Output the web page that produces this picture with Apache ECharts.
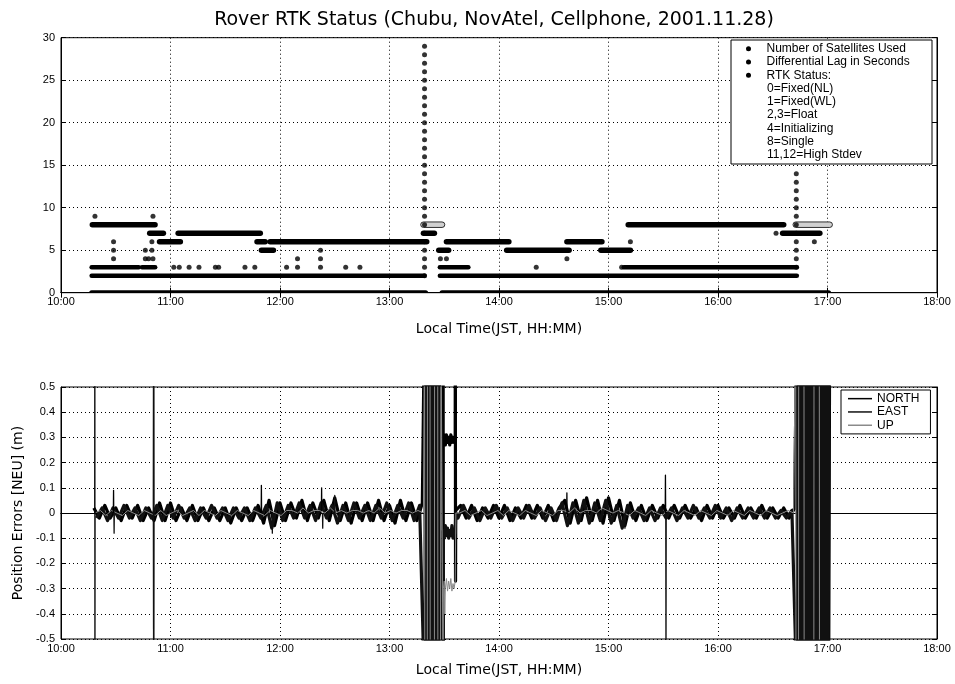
<!DOCTYPE html>
<html><head><meta charset="utf-8">
<script src="https://cdn.jsdelivr.net/npm/echarts@6/dist/echarts.min.js"></script>
<style>html,body{margin:0;background:#fff}#c{width:955px;height:684px}</style>
</head><body><div id="c"></div>
<script>
// ---------- tick labels / texts ----------
const xTickLabels = ['10:00','11:00','12:00','13:00','14:00','15:00','16:00','17:00','18:00'];
const statusCodes = ['0=Fixed(NL)','1=Fixed(WL)','2,3=Float','4=Initializing','8=Single','11,12=High Stdev'];
const topNames = ['Number of Satellites Used','Differential Lag in Seconds','RTK Status:'];
const bottomNames = ['NORTH','EAST','UP'];

// ---------- top chart: runs [start hour, end hour, value] and single points [hour, value] ----------
const satRuns = [
  [10.286,10.859,8],[10.81,10.935,7],[10.90,11.09,6],[11.07,11.82,7],[11.79,11.865,6],
  [11.83,11.94,5],[11.91,13.34,6],[13.31,13.41,7],[13.45,13.54,5],[13.52,14.09,6],
  [14.07,14.64,5],[14.62,14.94,6],[14.93,15.20,5],[15.18,16.60,8],[16.59,16.93,7]
];
const satRunsLight = [[13.31,13.48,8],[16.71,17.02,8]];
const satPoints = [[10.31,9],[10.84,9],[16.715,9],[16.53,7],[15.20,6],[16.88,6]];

const lagRuns = [
  [10.28,10.71,3],[10.74,10.86,3],[10.28,13.32,2],[13.46,16.72,2],[13.46,13.72,3],[15.14,16.72,3]
];
const lagPoints = [
  [10.48,6],[10.48,5],[10.48,4],[10.77,5],[10.77,4],[10.80,4],[10.83,6],[10.83,5],[10.84,4],
  [11.03,3],[11.08,3],[11.17,3],[11.26,3],[11.41,3],[11.44,3],[11.68,3],[11.77,3],
  [12.06,3],[12.16,4],[12.16,3],[12.37,5],[12.37,4],[12.37,3],[12.60,3],[12.73,3],
  [13.465,4],[13.52,4],[14.34,3],[14.62,4],[15.12,3]
];
const lagColumnTimes = [13.32, 16.715];
const lagColumn1 = [2,3,4,5,6,7,8,9,10,11,12,13,14,15,16,17,18,19,20,21,22,23,24,25,26,27,28,29];
const lagColumn2 = [3,4,5,6,7,8,10,11,12,13,14];

const statusRuns = [[10.28,13.33,0],[13.48,17.01,0]];

// ---------- bottom chart: position errors (cm), regular samples every 0.05 h ----------
const sampleStep = 0.05;
const northAStart = 10.30, eastAStart = 10.325, upAStart = 10.31;
const northA = [2,-2,3,-2,2,-3,3,-2,3,-3, 2,-3,4,-3,4,-3,2,-3,3,-3, 2,-3,2,-3,2,-4,2,-3,2,-3,
  3,-4,5,-5,4,-3,4,-2,5,-3, 4,-2,5,-3,6,-3,4,-4,4,-3, 4,-3,5,-3,3,-4,5,-3,4,-3, 4];
const eastA = [-2,2,-3,2,-2,3,-2,2,-3,2, -2,3,-3,3,-2,3,-2,2,-3,2, -2,3,-2,2,-3,2,-2,2,-3,2,
  -2,3,-6,4,-3,3,-2,4,-2,3, -3,4,-2,3,-4,3,-3,4,-2,3, -3,3,-2,4,-3,3,-2,4,-3,3];
const upA = [0,1,-1,1,0,-1,1,0,-1,1, 0,-1,1,-1,0,1,-1,0,1,-1, 1,0,-1,1,0,-1,1,0,-1,1,
  0,-1,1,0,-1,1,1,0,2,0, 1,1,0,2,0,1,0,1,1,0, 1,0,2,0,1,0,1,1,0,1, 0];

const northCStart = 13.65, eastCStart = 13.625, upCStart = 13.64;
const northC = [3,-2,3,-3,2,-2,3,-2,3,-3, 2,-2,3,-2,3,-2,3,-3,2, 5,-4,5,-3,6,-3,5,-4,6,-3,
  5,-5,4,-3,3,-3,3,-2,3,-2, 3,-2,3,-2,2,-3,3,-2,3,-2, 2,-2,3,-2,2,-2,3,-2,2,-2, 2,-2,2];
const eastC = [-2,3,-2,2,-3,2,-2,3,-2,2, -3,2,-2,3,-2,2,-3,2,-3, 4,-5,4,-4,5,-4,4,-3,5,-4,
  3,-6,3,-2,2,-3,2,-3,2,-2, 2,-3,2,-2,3,-2,2,-2,3,-2, 2,-3,2,-2,2,-2,2,-2,2,-2, 1,-2,1];
const upC = [0,1,-1,0,1,-1,0,1,-1,1, 0,-1,1,0,-1,1,0,-1,1, 1,0,2,0,1,1,0,2,1,0,
  1,0,-1,1,0,-1,1,0,-1,1, 0,-1,1,0,-1,1,0,-1,1,0, -1,1,0,-1,1,0,-1,1,0,-1, 0,1,0];

// burst periods (m), samples every 0.01 h
const burstStep = 0.01;
const northB1Start = 13.32, eastB1Start = 13.325;
const northB1 = [0.8,-0.8,0.8,-0.8,0.8,-0.8,0.8,-0.8,0.8,-0.8,0.8,-0.8,0.8,-0.8,0.8];
const eastB1 = [-0.8,0.8,-0.8,0.8,-0.8,0.8,-0.8,0.8,-0.8,0.8,-0.8,0.8,-0.8,0.8,-0.8];
const northB3Start = 16.72, eastB3Start = 16.725;
const northB3 = [0.8,-0.8,0.8,-0.8,0.8,-0.8,0.8,-0.8,0.8,-0.8, 0.8,-0.8,0.8,-0.8,0.8,-0.8,0.8,-0.8,0.8,-0.8,
  0.8,-0.8,0.8,-0.8,0.8,-0.8,0.8,-0.8,0.8,-0.8, 0.8];
const eastB3 = [-0.8,0.8,-0.8,0.8,-0.8,0.8,-0.8,0.8,-0.8,0.8, -0.8,0.8,-0.8,0.8,-0.8,0.8,-0.8,0.8,-0.8,0.8,
  -0.8,0.8,-0.8,0.8,-0.8,0.8,-0.8,0.8,-0.8,0.8];

// offset period after the first burst [hour, m]
const northB2 = [
  [13.475,0.8],[13.49,0.8],[13.4905,-0.8],[13.491,0.29],[13.50,0.31],[13.51,0.27],[13.52,0.31],
  [13.53,0.28],[13.54,0.30],[13.55,0.27],[13.56,0.31],[13.57,0.28],[13.58,0.30],[13.59,0.28],
  [13.60,0.29],[13.601,0.8],[13.603,-0.27],[13.605,0.01]
];
const eastB2 = [
  [13.475,-0.8],[13.491,-0.8],[13.492,-0.07],[13.50,-0.10],[13.51,-0.05],[13.52,-0.09],[13.53,-0.06],
  [13.54,-0.10],[13.55,-0.07],[13.56,-0.09],[13.57,-0.05],[13.58,-0.10],[13.59,-0.07],[13.60,-0.08],[13.605,0]
];
const upExtra = [
  [13.32,0.8],[13.322,-0.8],[13.345,-0.8],[13.347,0.8],[13.37,0.8],[13.372,-0.8],[13.41,-0.8],
  [13.412,0.8],[13.44,0.8],[13.442,-0.8],[13.465,-0.8],
  [13.47,0.8],[13.49,-0.8],[13.492,-0.30],[13.50,-0.27],[13.505,-0.40],[13.51,-0.30],[13.52,-0.26],
  [13.53,-0.31],[13.54,-0.27],[13.55,-0.30],[13.56,-0.26],[13.57,-0.31],[13.58,-0.28],[13.59,-0.30],
  [13.60,-0.27],[13.606,0],
  [16.71,0.8],[16.712,-0.8],[16.735,-0.8],[16.737,0.8],[16.785,0.8],[16.787,-0.8],[16.875,-0.8],
  [16.877,0.8],[16.925,0.8],[16.927,-0.8],[17.0,-0.8]
];
// isolated spikes [hour, m], one group per spike
const northSpikes = [
  [[10.308,0],[10.309,0.7],[10.31,-0.7],[10.311,0.02]],
  [[10.478,0],[10.48,0.09],[10.482,-0.01]],
  [[10.843,0],[10.845,0.7],[10.846,-0.7],[10.848,0]],
  [[11.828,0],[11.83,0.11],[11.832,0]],
  [[12.378,0.01],[12.38,0.10],[12.382,0.01]],
  [[14.618,0.01],[14.62,0.08],[14.622,0]],
  [[15.518,0.01],[15.52,0.15],[15.522,0]]
];
const eastSpikes = [
  [[10.483,0],[10.485,-0.08],[10.487,0]],
  [[10.844,0],[10.846,-0.7],[10.847,0.7],[10.849,0]],
  [[11.928,0],[11.93,-0.08],[11.932,0]],
  [[12.388,0],[12.39,-0.06],[12.392,0]],
  [[12.498,0],[12.50,0.07],[12.502,0]],
  [[15.148,0],[15.15,-0.06],[15.152,0]],
  [[15.523,0],[15.525,-0.7],[15.527,0]]
];

// ---------- build ----------
function samples(start, step, vals, scale) {
  return vals.map((v, i) => [start + i * step, v * scale]);
}
function merge(...parts) {
  return [].concat(...parts).sort((a, b) => a[0] - b[0]);
}
function groupsWithBreaks(groups) {
  const out = [];
  groups.forEach(g => { g.forEach(p => out.push(p)); out.push([g[g.length - 1][0], '-']); });
  return out;
}
const northData = merge(samples(northAStart, sampleStep, northA, 0.01), samples(northCStart, sampleStep, northC, 0.01),
  samples(northB1Start, burstStep, northB1, 1), samples(northB3Start, burstStep, northB3, 1), northB2);
const eastData = merge(samples(eastAStart, sampleStep, eastA, 0.01), samples(eastCStart, sampleStep, eastC, 0.01),
  samples(eastB1Start, burstStep, eastB1, 1), samples(eastB3Start, burstStep, eastB3, 1), eastB2);
const upData = merge(samples(upAStart, sampleStep, upA, 0.01), samples(upCStart, sampleStep, upC, 0.01), upExtra);

const lagColumnPoints = lagColumn1.map(v => [lagColumnTimes[0], v]).concat(lagColumn2.map(v => [lagColumnTimes[1], v]));

const FONT = 'Liberation Sans';
const FONT2 = 'DejaVu Sans';

function runSeries(name, runs, h, fill, stroke) {
  return {
    type: 'custom', name, xAxisIndex: 0, yAxisIndex: 0, data: runs, clip: true, silent: true,
    encode: { x: [0, 1], y: 2 }, itemStyle: { color: '#000' },
    renderItem: function (params, api) {
      const p0 = api.coord([api.value(0), api.value(2)]);
      const p1 = api.coord([api.value(1), api.value(2)]);
      return { type: 'rect', shape: { x: p0[0] - h / 2, y: p0[1] - h / 2, width: p1[0] - p0[0] + h, height: h, r: h / 2 },
        style: { fill: fill, stroke: stroke || null, lineWidth: stroke ? 0.8 : 0 } };
    }
  };
}
function dotSeries(name, pts) {
  return { type: 'scatter', name, xAxisIndex: 0, yAxisIndex: 0, data: pts, symbol: 'circle', symbolSize: 5,
    itemStyle: { color: '#000' }, silent: true };
}
function lineSeries(name, data, color, width) {
  return { type: 'line', name, xAxisIndex: 2, yAxisIndex: 2, data, symbol: 'none', showSymbol: false, clip: true,
    connectNulls: false, lineStyle: { color, width, join: 'round' }, itemStyle: { color }, silent: true };
}

const dotted = { color: '#000', type: [1, 3], width: 1 };
function xAx(grid, bottomPos, nameGap) {
  return {
    type: 'value', gridIndex: grid, min: 10, max: 18, interval: 1, position: bottomPos ? 'bottom' : 'top',
    axisLine: { show: true, lineStyle: { color: '#000', width: 1 } },
    axisTick: { show: true, inside: true, length: 5, lineStyle: { color: '#000' } },
    axisLabel: bottomPos ? { color: '#000', fontSize: 11, fontFamily: FONT, margin: 4,
      formatter: v => xTickLabels[Math.round(v - 10)] } : { show: false },
    splitLine: { show: bottomPos, lineStyle: dotted },
    name: bottomPos ? 'Local Time(JST, HH:MM)' : '', nameLocation: 'middle', nameGap: nameGap,
    nameTextStyle: { color: '#000', fontSize: 14, fontFamily: FONT2 }
  };
}
function yAx(grid, leftPos, min, max, interval, name) {
  return {
    type: 'value', gridIndex: grid, min, max, interval, position: leftPos ? 'left' : 'right',
    axisLine: { show: true, lineStyle: { color: '#000', width: 1 } },
    axisTick: { show: true, inside: true, length: 5, lineStyle: { color: '#000' } },
    axisLabel: leftPos ? { color: '#000', fontSize: 11, fontFamily: FONT, margin: 6 } : { show: false },
    splitLine: { show: leftPos, lineStyle: dotted },
    name: leftPos ? name : '', nameLocation: 'middle', nameGap: 36, nameRotate: 90,
    nameTextStyle: { color: '#000', fontSize: 14, fontFamily: FONT2 }
  };
}

const legendTextY = [88.3, 101.7, 115, 128.3, 141.7, 155];
const graphics = [{ type: 'rect', shape: { x: 731, y: 40, width: 201, height: 124 }, z: 3,
  style: { fill: '#fff', stroke: '#000', lineWidth: 1 } }];
statusCodes.forEach((s, i) => graphics.push({ type: 'text', x: 767, y: legendTextY[i], z: 5,
  style: { text: s, fill: '#000', font: '12px "Liberation Sans"', textVerticalAlign: 'middle', verticalAlign: 'middle' } }));

const option = {
  animation: false,
  backgroundColor: '#fff',
  title: { text: 'Rover RTK Status (Chubu, NovAtel, Cellphone, 2001.11.28)', left: 489, textAlign: 'center', top: 6,
    textStyle: { color: '#000', fontSize: 19, fontWeight: 'normal', fontFamily: FONT2 } },
  grid: [
    { left: 61, top: 37.7, width: 876, height: 255, show: true, borderColor: '#000', borderWidth: 1, backgroundColor: 'transparent' },
    { left: 61, top: 387, width: 876, height: 252, show: true, borderColor: '#000', borderWidth: 1, backgroundColor: 'transparent' }
  ],
  xAxis: [xAx(0, true, 30), xAx(0, false, 0), xAx(1, true, 24), xAx(1, false, 0)],
  yAxis: [yAx(0, true, 0, 30, 5, ''), yAx(0, false, 0, 30, 5, ''),
          yAx(1, true, -0.5, 0.5, 0.1, 'Position Errors [NEU] (m)'), yAx(1, false, -0.5, 0.5, 0.1, '')],
  legend: [
    { data: topNames.map(n => ({ name: n, icon: 'circle' })), orient: 'vertical', left: 746, top: 42, padding: 0,
      itemGap: 0, itemWidth: 26, itemHeight: 5, selectedMode: false, z: 4,
      textStyle: { color: '#000', fontSize: 12, lineHeight: 13.3, fontFamily: FONT } },
    { data: bottomNames.map(n => ({ name: n, icon: 'rect' })), orient: 'vertical', left: 841, top: 390,
      padding: [2, 11, 2, 7], itemGap: 0,
      itemWidth: 24, itemHeight: 1.5, selectedMode: false, borderColor: '#000', borderWidth: 1, backgroundColor: '#fff',
      textStyle: { color: '#000', fontSize: 12, lineHeight: 13.3, fontFamily: FONT } }
  ],
  graphic: graphics,
  series: [
    runSeries(topNames[2], statusRuns, 5, '#000'),
    runSeries(topNames[1], lagRuns, 4.5, '#000'),
    runSeries(topNames[0], satRuns, 5.5, '#000'),
    runSeries(topNames[0], satRunsLight, 5.5, '#d0d0d0', '#000'),
    dotSeries(topNames[1], lagPoints.concat(lagColumnPoints)),
    dotSeries(topNames[0], satPoints),
    lineSeries(bottomNames[0], northData, '#000', 3.2),
    lineSeries(bottomNames[1], eastData, '#111', 3.2),
    lineSeries(bottomNames[2], upData, '#8a8a8a', 1),
    lineSeries(bottomNames[0], groupsWithBreaks(northSpikes), '#000', 1.3),
    lineSeries(bottomNames[1], groupsWithBreaks(eastSpikes), '#111', 1.3)
  ]
};
const chart = echarts.init(document.getElementById('c'));
chart.setOption(option);
</script>
</body></html>
